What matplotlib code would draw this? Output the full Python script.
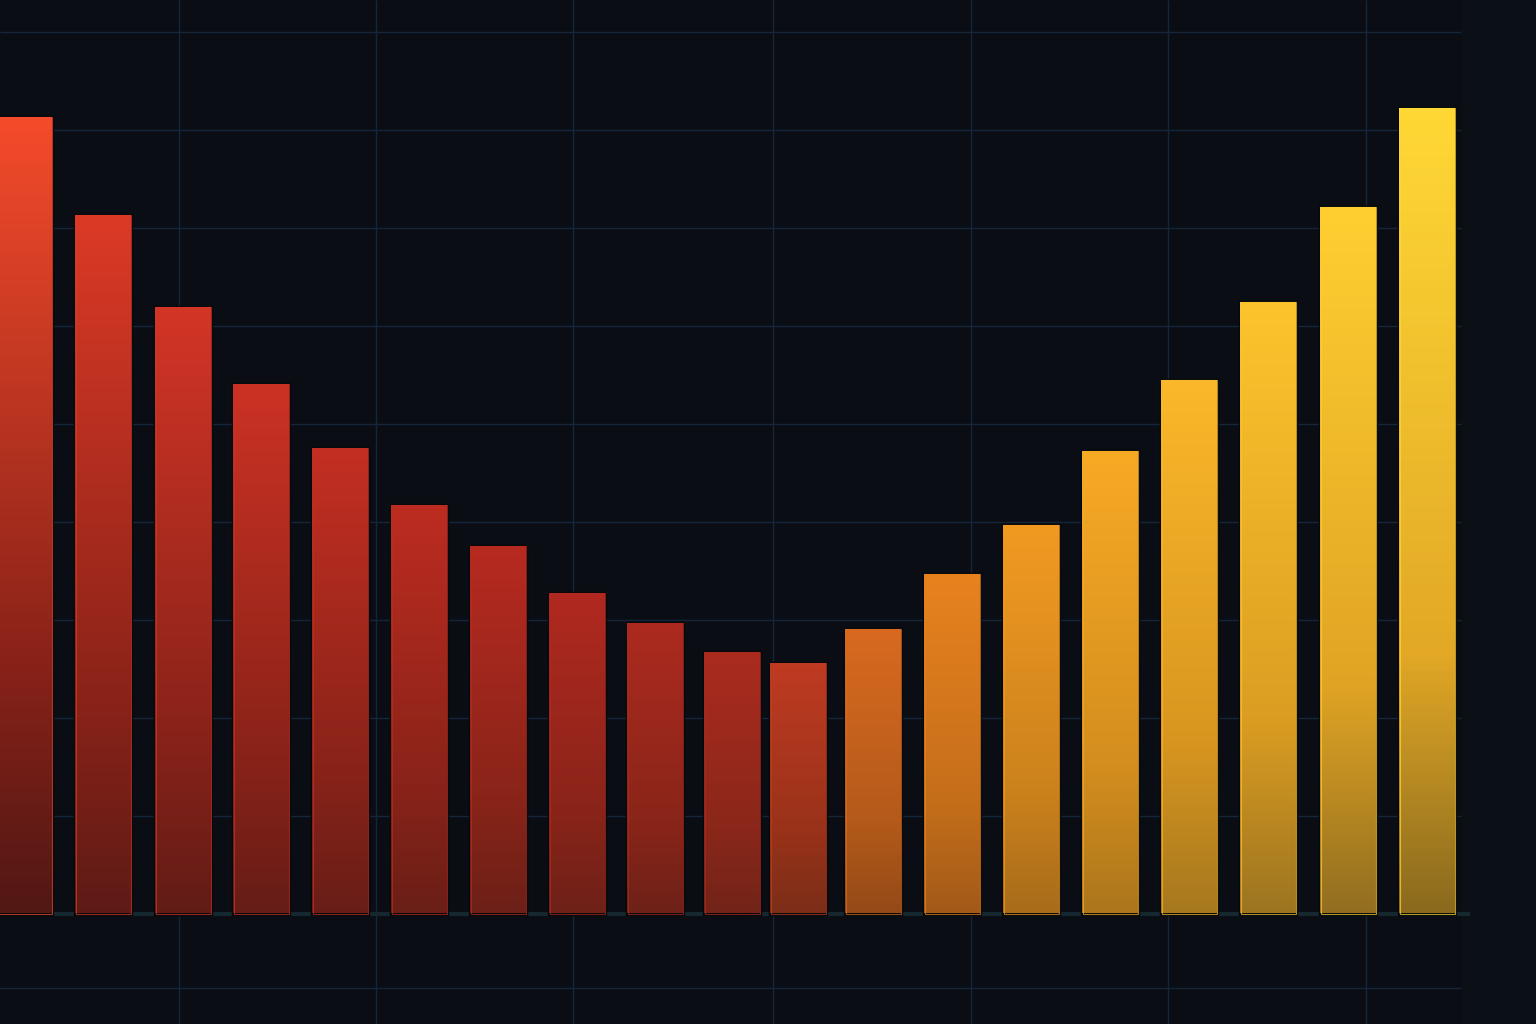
import numpy as np
import matplotlib
matplotlib.use("Agg")
import matplotlib.pyplot as plt
from matplotlib.colors import LinearSegmentedColormap

# bar centres and heights (heights in px-like units above the baseline)
x_pos = [24, 103, 183, 261, 340, 419, 498, 577, 655, 732, 798, 873, 952, 1031, 1110, 1189, 1268, 1348, 1427]
heights = [797, 699, 607, 530, 466, 409, 368, 321, 291, 262, 251, 285, 340, 389, 463, 534, 612, 707, 806]
top_colors = ["#f44b2b", "#dc3a26", "#d33526", "#cc3224", "#c42f22", "#bd2c21", "#b72a20", "#b12920",
              "#ad2a20", "#ab2b1f", "#bf3b22", "#d86a20", "#e8821f", "#f19a22", "#f8aa25", "#fbb82a",
              "#fdc42d", "#ffcf31", "#ffd835"]
mid_colors = ["#8a2219", "#8c2319", "#8c231a", "#8c2319", "#8a2319", "#8a2319", "#8a2419", "#8a2419",
              "#8a2519", "#8a271a", "#983219", "#b45a1a", "#c46e1a", "#cc821c", "#d48e1e", "#d89620",
              "#dc9e22", "#e0a424", "#e2a826"]
bottom_colors = ["#521814", "#5e1b16", "#621c16", "#661d17", "#681e17", "#6a1f17", "#6c2017", "#6e2118",
                 "#6e2118", "#722418", "#7c2e18", "#944a17", "#a25a18", "#a86c1a", "#ac761c", "#a6781e",
                 "#9c7420", "#926e20", "#8a6a1e"]
bar_width = 56

fig = plt.figure(figsize=(15.36, 10.24), dpi=100)
fig.patch.set_facecolor("#0a0e14")
ax = fig.add_axes([0, 0, 1, 1])
ax.set_facecolor("#0a0e14")
ax.set_xlim(0, 1536)
ax.set_ylim(-110.5, 913.5)
ax.axis("off")

# faint lighter edge on the right
ax.axvspan(1462, 1536, color="#0b1016", lw=0, zorder=0)

# grid
grid_col = "#15263a"
for yv in [98 * k for k in range(1, 10)] + [-74]:
    ax.hlines(yv, 0, 1461, color=grid_col, lw=1, zorder=1)
for xv in [179, 376, 573, 773, 971, 1168, 1366]:
    ax.vlines(xv, -110.5, 913.5, color=grid_col, lw=1, zorder=1)
ax.hlines(0, 0, 1470, color="#16282f", lw=3, zorder=1)

bars = ax.bar(x_pos, heights, width=bar_width, bottom=0, color="none",
              edgecolor="#05080b", linewidth=2.5, zorder=2)

grad = np.linspace(0, 1, 256).reshape(-1, 1)
for b, h, tc, mc, bc in zip(bars, heights, top_colors, mid_colors, bottom_colors):
    cmap = LinearSegmentedColormap.from_list("g", [(0, bc), (0.32, mc), (1, tc)])
    x0 = b.get_x()
    im = ax.imshow(grad, cmap=cmap, vmin=0, vmax=1, aspect="auto", origin="lower",
                   extent=[x0, x0 + bar_width, 0, h], zorder=3, interpolation="bilinear")
    im.set_clip_path(b)
    ax.bar(b.get_x() + bar_width / 2, h, width=bar_width - 1, color="none",
           edgecolor=tc, linewidth=0.8, alpha=0.7, zorder=4)

ax.set_xlim(0, 1536)
ax.set_ylim(-110.5, 913.5)
fig.savefig("out.png", dpi=100, facecolor=fig.get_facecolor())
